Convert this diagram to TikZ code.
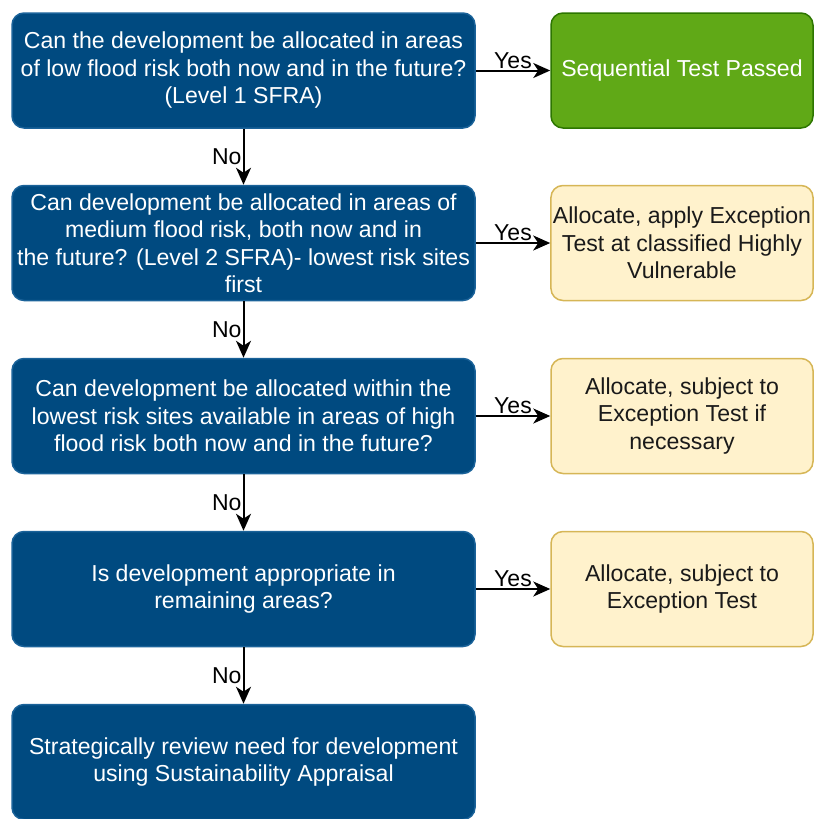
\documentclass[tikz,border=0pt]{standalone}
\usepackage{fontspec}
\setmainfont{Liberation Sans}
\usetikzlibrary{arrows.meta}
\definecolor{blu}{HTML}{004A80}
\definecolor{blubd}{HTML}{1A6299}
\definecolor{grn}{HTML}{60A917}
\definecolor{grnbd}{HTML}{2D7600}
\definecolor{yel}{HTML}{FFF2CC}
\definecolor{yelbd}{HTML}{D6B656}
\definecolor{ink}{HTML}{1A1A1A}
\tikzset{
  base/.style={rounded corners=12pt, line width=1.5pt, align=center,
    font=\fontsize{23.1}{27.5}\selectfont, inner sep=2pt},
  qbox/.style={base, fill=blu, draw=blubd, text=white,
    minimum width=463pt, minimum height=115pt},
  okbox/.style={base, fill=grn, draw=grnbd, text=white,
    minimum width=262pt, minimum height=115pt},
  abox/.style={base, fill=yel, draw=yelbd, text=ink,
    minimum width=262pt, minimum height=115pt},
  arr/.style={line width=2pt, draw=black,
    -{Stealth[length=17pt,width=15pt,inset=5pt]}},
  lbl/.style={font=\fontsize{23}{26}\selectfont, text=black, inner sep=1pt}
}
\begin{document}
\begin{tikzpicture}[x=1pt,y=-1pt]
\useasboundingbox (0,0) rectangle (814,819);
\node[qbox] (q1) at (243.5,70.5) {Can the development be allocated in areas\\of low flood risk both now and in the future?\\(Level 1 SFRA)};
\node[qbox] (q2) at (243.5,243) {Can development be allocated in areas of\\medium flood risk, both now and in\\the future? (Level 2 SFRA)- lowest risk sites\\first};
\node[qbox] (q3) at (243.5,416) {Can development be allocated within the\\lowest risk sites available in areas of high\\flood risk both now and in the future?};
\node[qbox] (q4) at (243.5,589) {Is development appropriate in\\remaining areas?};
\node[qbox] (q5) at (243.5,762) {Strategically review need for development\\using Sustainability Appraisal};
\node[okbox] (r1) at (682,70.5) {Sequential Test Passed};
\node[abox] (r2) at (682,243) {Allocate, apply Exception\\Test at classified Highly\\Vulnerable};
\node[abox] (r3) at (682,416) {Allocate, subject to\\Exception Test if\\necessary};
\node[abox] (r4) at (682,589) {Allocate, subject to\\Exception Test};
\draw[arr] (q1) -- (r1) node[lbl, midway, above] {Yes};
\draw[arr] (q2) -- (r2) node[lbl, midway, above] {Yes};
\draw[arr] (q3) -- (r3) node[lbl, midway, above] {Yes};
\draw[arr] (q4) -- (r4) node[lbl, midway, above] {Yes};
\draw[arr] (q1) -- (q2) node[lbl, midway, left] {No};
\draw[arr] (q2) -- (q3) node[lbl, midway, left] {No};
\draw[arr] (q3) -- (q4) node[lbl, midway, left] {No};
\draw[arr] (q4) -- (q5) node[lbl, midway, left] {No};
\end{tikzpicture}
\end{document}
